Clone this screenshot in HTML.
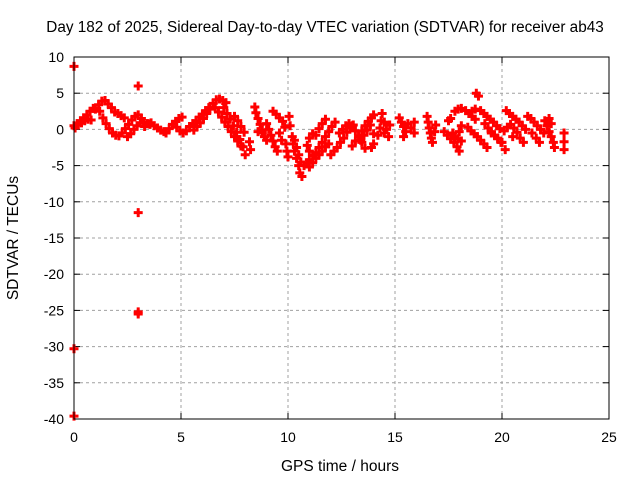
<!DOCTYPE html>
<html><head><meta charset="utf-8"><style>
html,body{margin:0;padding:0;background:#fff}
svg{display:block;font-family:"Liberation Sans",sans-serif}
</style></head><body>
<svg id="chart" width="640" height="480">
<rect x="0" y="0" width="640" height="480" fill="#fff"/>
<text x="325" y="32" font-size="15.3" text-anchor="middle">Day 182 of 2025, Sidereal Day-to-day VTEC variation (SDTVAR) for receiver ab43</text>
<text x="340" y="471" font-size="15.5" text-anchor="middle">GPS time / hours</text>
<text x="18" y="238" font-size="15.5" text-anchor="middle" transform="rotate(-90 18 238)">SDTVAR / TECUs</text>
<g id="grid"></g>
<g id="ticks"></g>
<g id="marks"></g>
<rect x="74" y="57" width="535" height="362" fill="none" stroke="#000" stroke-width="1"/>
</svg>
<script>
const xTicks = [0,5,10,15,20,25];
const yTicks = [10,5,0,-5,-10,-15,-20,-25,-30,-35,-40];
const times = [
0,0.15,0.3,0.45,0.6,0.75,0.9, 0.05,0.2,0.35,0.5,0.65,0.8,
1.0,1.15,1.3,1.45,1.6,1.75,1.9,2.05,2.2,2.35, 1.2,1.35,1.5,1.65,1.8,1.95,
2.1,2.25,2.4,2.55,2.7,2.85,3.0,3.15, 2.5,2.65,2.8,2.95,3.1,3.25,3.4,3.55,
3.3,3.45,3.6,3.75,3.9,4.05,4.2, 4.3,4.45,4.6,4.75,4.9,5.05,
4.8,4.95,5.1,5.25,5.4,5.55,5.7,5.85,6.0,6.15,6.3,
5.6,5.75,5.9,6.05,6.2,6.35,6.5,6.65,6.8,6.95,7.1,
6.6,6.75,6.9,7.05,7.2,7.35,7.5,7.65,7.8,
7.0,7.15,7.3,7.45,7.6,7.75,7.9,8.0, 7.5,7.65,7.8,7.95,
8.2,8.25,8.45,8.5,8.6,8.7,8.8,8.9,9.0,
8.6,8.8,9.0,9.1,9.2,9.3,9.4,9.5,
9.3,9.45,9.6,9.75,9.85,9.6,9.7, 9.9,9.95,10.0,
10.05,10.1,10.2,10.25,10.3,10.4,10.5,10.55,10.65,
10.3,10.4,10.5,10.6,10.75,10.9,11.0,
10.9,11.0,11.15,11.3,11.45,11.6,11.75,11.9,12.05,12.2,
11.0,11.15,11.3,11.45,11.6,11.75,11.9,
11.3,11.45,11.6,11.75,11.0,11.15,
12.0,12.15,12.3,12.45,12.6,12.75,12.9,13.05,
12.4,12.55,12.7,12.85,13.0,13.15,13.3,13.45,13.6,
13.0,13.15,13.3,13.45,13.6,13.75,13.9,14.0,
13.4,13.55,13.7,13.85,14.0,14.0,13.9,
14.2,14.3,14.35,14.4,14.5,14.6,14.7,14.5,14.75,
15.2,15.3,15.4,15.5,15.4,15.6,15.75,15.9,15.9,
16.5,16.55,16.6,16.65,16.7,16.75,16.85,16.9,
17.3,17.45,17.6,17.75,17.9,18.0,17.5,17.6,
17.7,17.8,17.95,18.1,18.0,18.1,
17.8,17.95,18.1,18.3,18.45,18.6,18.75,
18.4,18.55,18.7,18.85,19.0,19.15,19.3,
18.8,18.9,18.6,18.75,
19.0,19.15,19.3,19.45,19.6,19.75,19.9,
19.2,19.35,19.5,19.65,19.8,19.95,
19.5,19.65,19.8,20.0,20.15,
20.2,20.35,20.5,20.65,20.8,20.95,21.1,
20.1,20.25,20.4,20.55,20.7,20.85,21.0,20.5,
21.2,21.35,21.5,21.65,21.8,21.95,21.4,21.6,21.75,
22.0,22.1,22.2,22.3,22.4,22.45,22.2,22.3,
22.9,22.9,22.9,
0,0,0,3,3,3,3
];
const values = [
0.5,0.8,1.2,1.6,2.0,2.5,2.9, 0.2,0.6,0.9,1.2,1.4,1.3,
2.8,3.4,3.9,4.0,3.5,3.0,2.4,2.2,1.9,1.6, 2.5,1.6,0.8,0.1,-0.5,-0.8,
-0.9,-0.5,0.1,0.7,1.3,1.8,2.0,1.5, -1.0,-0.6,0,0.5,0.9,1.0,0.8,0.7,
0.4,0.8,0.9,0.5,0.2,-0.1,-0.3, -0.5,0.1,0.7,1.1,1.5,1.7,
0.3,-0.2,-0.5,-0.2,0.4,0.8,1.2,1.7,2.1,2.6,3.0,
-0.1,0.4,0.9,1.5,2.2,2.8,3.6,4.1,4.2,4.0,3.7,
3.0,2.4,1.7,1.0,0.4,-0.3,-1.0,-1.6,-2.3,
3.0,2.2,1.4,0.5,-0.4,-1.4,-2.4,-3.5, 1.8,1.2,0.4,-0.4,
-1.7,-2.8,3.1,2.3,1.5,0.7,-0.1,-1.0,-1.5,
-0.3,-0.5,0.8,0,-0.8,-1.6,-2.4,-3.0,
2.5,2.1,1.6,1.1,0.3,-0.5,-1.5, -2,-3,-3.8,
1.8,0.5,-1,-2,-3,-4,-5,-6,-6.5,
-1.5,-2.5,-3.5,-4.5,-5.0,-4.6,-4.2,
-2.2,-3.0,-3.6,-3.2,-2.5,-1.8,-1.0,-0.3,0.4,1.0,
-5.2,-4.6,-4.0,-3.5,-3.0,-2.4,-2.0,
-0.8,0.1,0.8,1.4,-1.2,-0.6,
-3.5,-3.0,-2.5,-1.8,-1.2,-0.4,0.2,0.6,
-0.5,0,0.5,0.8,0.5,-0.2,-1.0,-1.8,-2.6,
-2.3,-1.6,-0.9,-0.2,0.5,1.1,1.6,2.0,
-1.5,-0.8,-0.1,0.6,-0.6,-2.0,-2.5,
-0.8,0.2,1.2,2.2,1.0,0,-1.0,-0.5,0.6,
1.6,1.0,0.4,-0.3,-1.0,0.8,0.2,-0.5,1.0,
1.8,1,0.2,-0.5,-1.2,-1.8,-0.3,0.6,
-0.3,-0.8,-1.3,-1.8,-2.4,-3.0,1.2,1.5,
-0.5,-1.0,-1.3,-1.6,-0.3,0.5,
2.5,2.8,2.9,2.6,2.2,1.8,1.4,
0.3,-0.2,-0.6,-1.0,-1.5,-2.0,-2.5,
5.0,4.6,2.5,2.8,
2.6,2.2,1.8,1.4,1.0,0.5,0.1,
0.8,0.2,-0.3,-0.8,-1.3,-1.8,
-0.5,-0.8,-1.2,-1.8,-2.8,
2.6,2.2,1.8,1.4,1.0,0.5,0.0,
-0.2,0.3,0.7,0.2,-0.4,-1.2,-1.8,-1.0,
1.8,1.5,1.0,0.5,0,-0.5,-0.5,-1.2,-1.8,
1.2,0.5,-0.3,-1.0,-1.8,-2.5,1.5,0.8,
-0.5,-1.7,-2.8,
8.7,-30.3,-39.6,6.0,-11.5,-25.2,-25.5
];
const X0=74,X1=609,Y0=57,Y1=419,xMin=0,xMax=25,yMin=-40,yMax=10;
function xs(t){return X0+(t-xMin)/(xMax-xMin)*(X1-X0);}
function ys(v){return Y1-(v-yMin)/(yMax-yMin)*(Y1-Y0);}
const NS="http://www.w3.org/2000/svg";
const grid=document.getElementById('grid'),ticks=document.getElementById('ticks'),marks=document.getElementById('marks');
function mk(tag,attrs,parent){const e=document.createElementNS(NS,tag);for(const k in attrs)e.setAttribute(k,attrs[k]);parent.appendChild(e);return e;}
xTicks.forEach(t=>{const x=xs(t);
 if(t>xMin&&t<xMax){const g=mk('line',{x1:x,x2:x,y1:Y0,y2:Y1,stroke:'#a0a0a0','stroke-dasharray':'3,3'},grid);
 
 }
 mk('line',{x1:x,x2:x,y1:Y1,y2:Y1-6,stroke:'#000'},ticks);
 mk('line',{x1:x,x2:x,y1:Y0,y2:Y0+6,stroke:'#000'},ticks);
 const l=mk('text',{x:x,y:Y1+23,'font-size':14,'text-anchor':'middle'},ticks);l.textContent=t;
 
 
});
yTicks.forEach(v=>{const y=ys(v);
 if(v>yMin&&v<yMax){const g=mk('line',{x1:X0,x2:X1,y1:y,y2:y,stroke:'#a0a0a0','stroke-dasharray':'3,3'},grid);
 
 }
 mk('line',{x1:X0,x2:X0+6,y1:y,y2:y,stroke:'#000'},ticks);
 mk('line',{x1:X1,x2:X1-6,y1:y,y2:y,stroke:'#000'},ticks);
 const l=mk('text',{x:X0-10,y:y+5,'font-size':14,'text-anchor':'end'},ticks);l.textContent=v;
 
 
});
for(let i=0;i<times.length;i++){
 const x=xs(times[i]),y=ys(values[i]);
 const p=mk('path',{d:`M${x-4.5},${y}H${x+4.5}M${x},${y-4.5}V${y+4.5}`,stroke:'#ff0000','stroke-width':3,fill:'none'},marks);
 
 
}
</script>
</body></html>
